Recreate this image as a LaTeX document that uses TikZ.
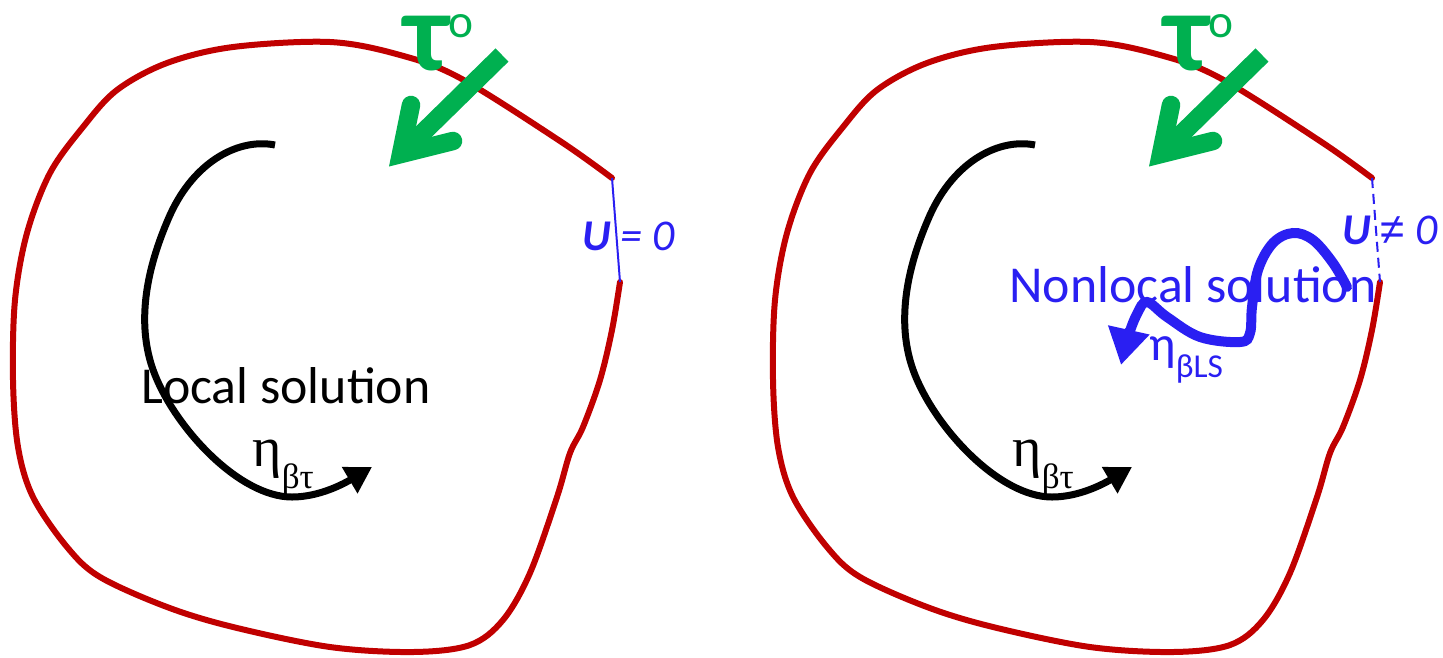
\documentclass[tikz,border=0pt]{standalone}
\usepackage{fontspec}
\setmainfont{Carlito}
\newfontfamily\greekserif{Liberation Serif}
\newfontfamily\neqfont{Liberation Sans}
\usetikzlibrary{arrows.meta,calc}
\definecolor{dgRed}{HTML}{C00000}
\definecolor{dgGreen}{HTML}{00B050}
\definecolor{dgBlue}{HTML}{2A1FF2}

\begin{document}
\begin{tikzpicture}[
      x=0.02cm, y=-0.02cm,
      rim/.style={draw=dgRed, line width=0.12cm, line cap=round},
      bnd/.style={draw=dgBlue, line width=0.04cm},
      traj/.style={draw=black, line width=0.14cm,
                  -{Triangle[length=0.52cm, width=0.58cm]}},
      wave/.style={draw=dgBlue, line width=0.2cm, line cap=round,
                  -{Triangle[length=0.72cm, width=0.8cm]}},
      shaft/.style={draw=dgGreen, line width=0.37cm},
      barb/.style={draw=dgGreen, line width=0.37cm, line cap=round, line join=miter},
      lbl/.style={anchor=base, inner sep=0pt, font=\fontsize{29.5}{32}\selectfont},
      ulbl/.style={anchor=base west, inner sep=0pt, text=dgBlue,
                  font=\fontsize{25}{28}\selectfont\itshape},
      etalbl/.style={anchor=base west, inner sep=0pt,
                  font=\fontsize{32}{34}\selectfont\greekserif},
      taulbl/.style={anchor=base west, inner sep=0pt, text=dgGreen,
                  font=\fontsize{64}{66}\selectfont\bfseries},
    ]
    \useasboundingbox (0,0) rectangle (1443,657);

    % ---------- textos ----------
    \node[lbl] (localTxt) at (286,403) {Local solution};
    \node[etalbl] (etaL) at (252,466)
      {η\raisebox{-0.44cm}{\fontsize{20}{20}\selectfont βτ}};
    \node[etalbl] (etaLR) at (1012,466)
      {η\raisebox{-0.44cm}{\fontsize{20}{20}\selectfont βτ}};
    \node[ulbl] (uL) at (582,250) {{\bfseries U} = 0};
    \node[ulbl] (uR) at (1342,244) {{\bfseries U} {\neqfont\itshape ≠} 0};
    \node[lbl, text=dgBlue] (nonlocalTxt) at (1193,302) {Nonlocal solution};
    \node[etalbl, font=\fontsize{28}{30}\selectfont, text=dgBlue] (etaBLS) at (1149,360)
      {η\raisebox{-0.34cm}{\fontsize{19}{19}\selectfont βLS}};

    % ---------- contorno y trayectoria (ambos paneles) ----------
    \foreach \dx/\p in {0/L,760/R}{
      \begin{scope}[xshift=\dx*0.02cm]
        \coordinate (rimTop\p) at (612,178);
        \coordinate (rimBot\p) at (620,282);
        \draw[rim] plot[smooth, tension=0.55] coordinates {
          (612,178) (560,141) (460,78) (400,55) (330,42) (233,47) (167,63)
          (117,90) (83,127) (50,173) (27,233) (15,300) (13,380) (18,447)
          (33,497) (67,547) (100,577) (167,607) (233,627) (330,647) (413,652)
          (470,645) (503,620) (530,573) (557,497) (570,453) (583,427)
          (600,380) (612,330) (620,282)};
        \draw[traj] (275,145) .. controls (240,138) and (195,160) .. (170,215)
          .. controls (150,260) and (133,320) .. (155,375)
          .. controls (177,430) and (240,497) .. (292,497)
          .. controls (320,497) and (345,483) .. (372,467);
      \end{scope}
    }

    % ---------- frontera ----------
    \draw[bnd] (rimTopL) -- (rimBotL);
    \draw[bnd, dash pattern=on 0.2cm off 0.12cm] (rimTopR) -- (rimBotR);

    % ---------- solucion no local ----------
    \draw[wave] plot[smooth, tension=0.6] coordinates {
      (1347,287) (1333,263) (1313,240) (1293,233) (1273,243) (1258,270)
      (1252,307) (1250,333) (1240,342) (1200,337) (1167,317) (1147,302)
      (1137,314) (1128,337) (1121,365)};

    % ---------- carga tau ----------
    \foreach \dx/\p in {0/L,760/R}{
      \begin{scope}[xshift=\dx*0.02cm]
        \coordinate (gTail\p) at (502,55);
        \coordinate (gTip\p)  at (401,154);
        \coordinate (gBarbA\p) at (411,105);
        \coordinate (gBarbB\p) at (453,141);
        \draw[shaft] (gTail\p) -- (gTip\p);
        \draw[barb] (gBarbA\p) -- (gTip\p) -- (gBarbB\p);
        \node[taulbl] (tau\p) at (404,70)
          {τ\raisebox{0.66cm}{\fontsize{27}{27}\selectfont\mdseries o}};
      \end{scope}
    }

  \end{tikzpicture}
\end{document}
